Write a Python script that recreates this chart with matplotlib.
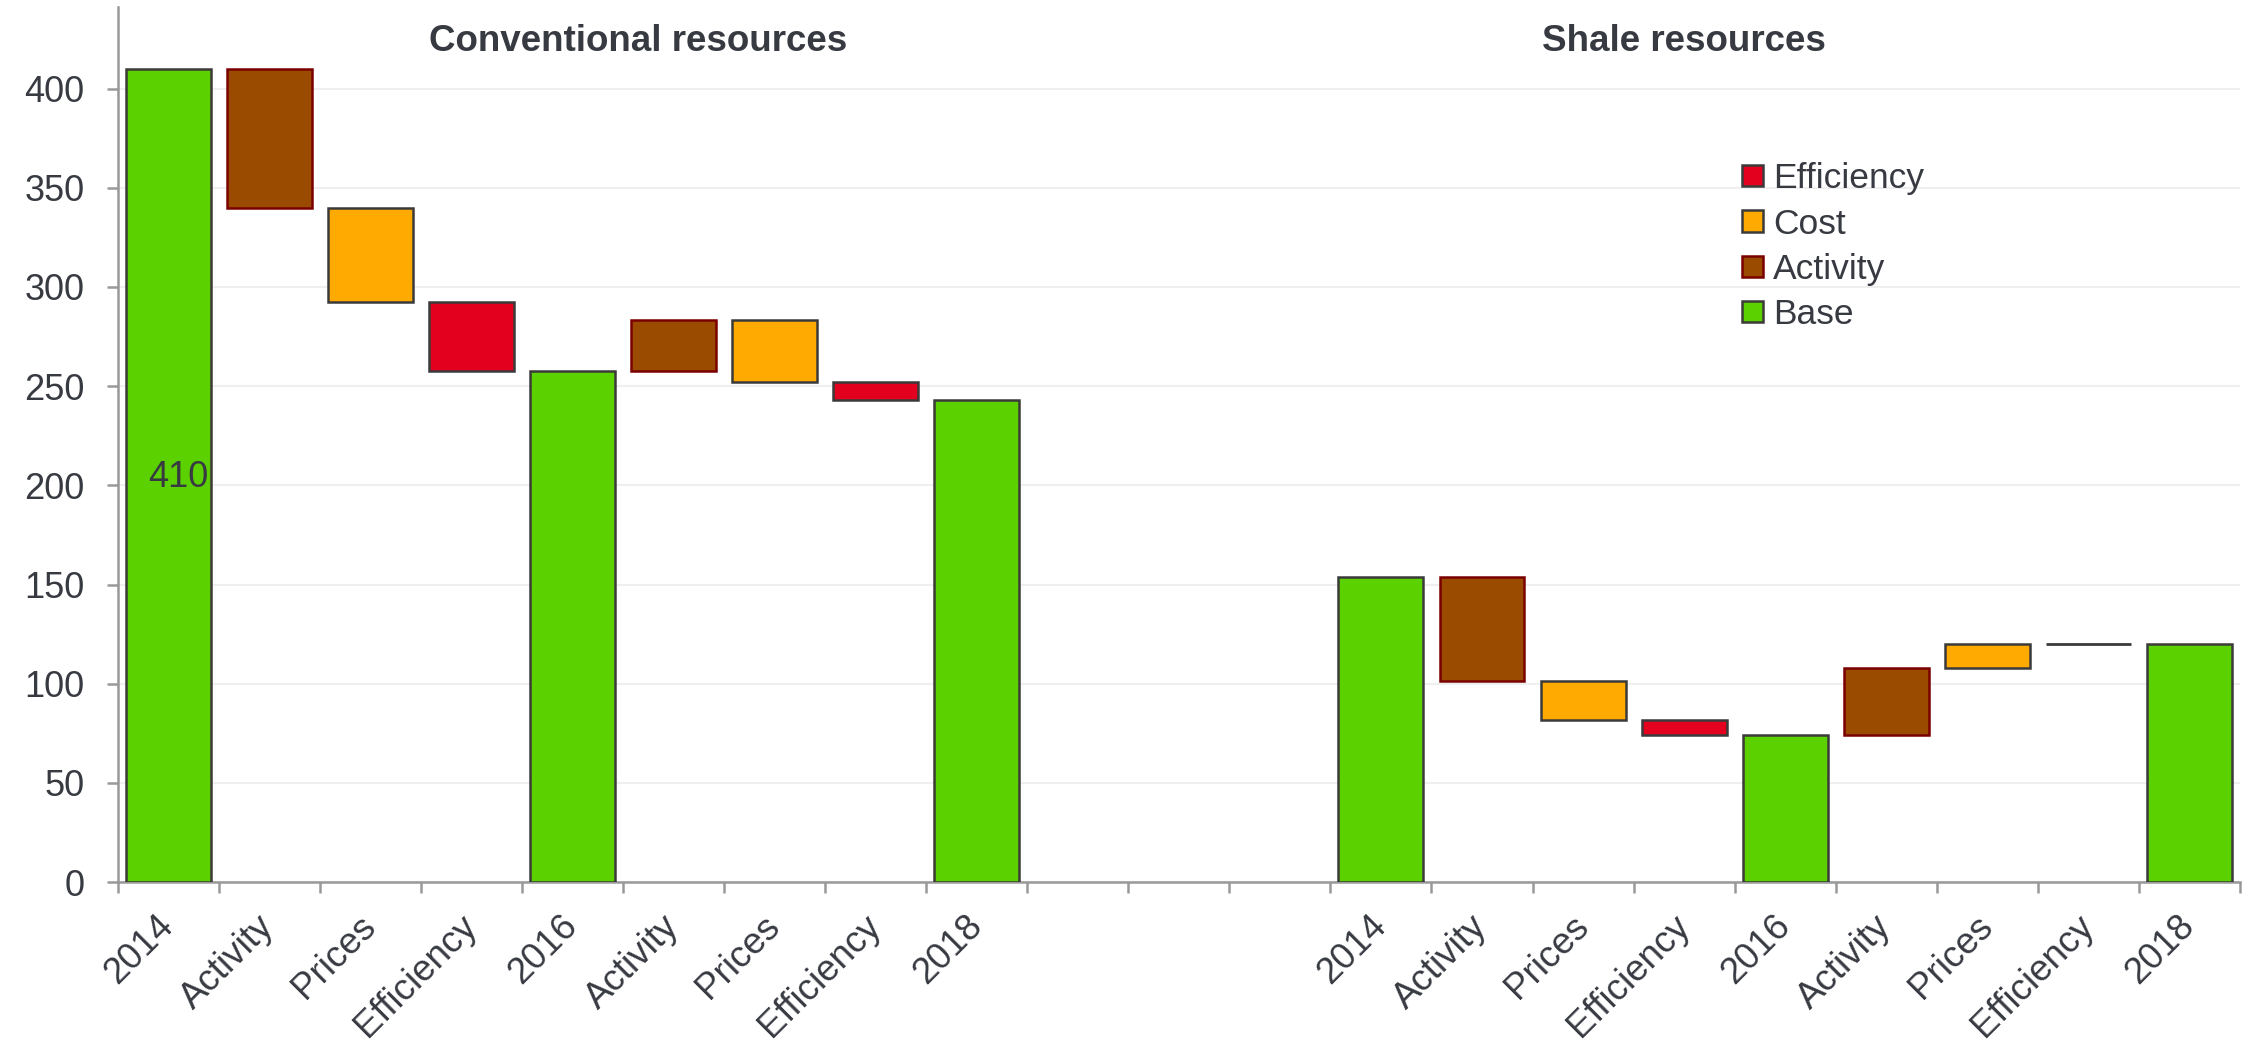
import matplotlib
matplotlib.use("Agg")
import matplotlib.pyplot as plt
from matplotlib.patches import Patch
from matplotlib.transforms import ScaledTranslation
import numpy as np

plt.rcParams['font.family'] = ['Liberation Sans', 'DejaVu Sans']

# Waterfall steps for each resource group
step_labels = ["2014", "Activity", "Prices", "Efficiency", "2016",
               "Activity", "Prices", "Efficiency", "2018"]
step_kinds = ["Base", "Activity", "Cost", "Efficiency", "Base",
              "Activity", "Cost", "Efficiency", "Base"]
conventional_values = [410, -70, -47.5, -35, 257.5, 26, -31.5, -9, 243]
shale_values = [154, -52.5, -20, -7.5, 74, 34, 12, 0, 120]
gap_slots = 3

group_titles = ["Conventional resources", "Shale resources"]
legend_order = ["Efficiency", "Cost", "Activity", "Base"]

colors = {"Base": "#5BD200", "Activity": "#9B4B00",
          "Cost": "#FFAA00", "Efficiency": "#E2001E"}
edges = {"Base": "#3a3a3a", "Activity": "#7a0000",
         "Cost": "#3a3a3a", "Efficiency": "#3a3a3a"}
text_color = "#383a42"
axis_color = "#999999"


def waterfall(values, kinds):
    bottoms, heights = [], []
    running = 0.0
    for v, k in zip(values, kinds):
        if k == "Base":
            bottoms.append(0.0)
            heights.append(v)
            running = v
        else:
            bottoms.append(min(running, running + v))
            heights.append(abs(v))
            running += v
    return bottoms, heights


fig = plt.figure(figsize=(22.49, 10.41), dpi=100)
ax = fig.add_axes([0.0523, 0.1527, 0.9437, 0.8403])

labels_all = []
x_all = []
for g, values in enumerate([conventional_values, shale_values]):
    offset = g * (len(step_labels) + gap_slots)
    b, h = waterfall(values, step_kinds)
    xs = np.arange(len(values)) + offset
    for x, bb, hh, k in zip(xs, b, h, step_kinds):
        ax.bar(x, hh, bottom=bb, width=0.84, color=colors[k],
               edgecolor=edges[k], linewidth=2.0 if hh == 0 else 1.8,
               zorder=3)
    x_all.extend(xs)
    labels_all.extend(step_labels)

n_slots = 2 * len(step_labels) + gap_slots
ax.set_xlim(-0.5, n_slots - 0.5)
ax.set_ylim(0, 441)

# Value label on the first bar
ax.text(0.1, conventional_values[0] / 2 - 1, f"{conventional_values[0]:g}",
        ha="center", va="center", fontsize=26, color=text_color, zorder=4)

# Group titles
ax.text(4.65, 423.5, group_titles[0], ha="center", va="center",
        fontsize=26.5, fontweight="bold", color=text_color)
ax.text(15.0, 423.5, group_titles[1], ha="center", va="center",
        fontsize=26.5, fontweight="bold", color=text_color)

# Axes styling
ax.set_xticks(x_all)
ax.set_xticklabels(labels_all, rotation=45, ha="right", va="center",
                   rotation_mode="anchor", fontsize=26.5, color=text_color)
shift = ScaledTranslation(-0.05, 0, fig.dpi_scale_trans)
for lbl in ax.get_xticklabels():
    lbl.set_transform(lbl.get_transform() + shift)
ax.set_xticks(np.arange(-0.5, n_slots, 1.0), minor=True)
ax.tick_params(axis="x", which="major", length=0, pad=28)
ax.tick_params(axis="x", which="minor", length=8, width=1.8, color=axis_color)
ax.set_yticks(np.arange(0, 401, 50))
ax.tick_params(axis="y", length=8, width=1.8, color=axis_color,
               labelsize=26, labelcolor=text_color, pad=16)
for s in ["top", "right"]:
    ax.spines[s].set_visible(False)
for s in ["left", "bottom"]:
    ax.spines[s].set_color(axis_color)
    ax.spines[s].set_linewidth(1.8)
ax.yaxis.grid(True, color="#efefef", linewidth=1.5, zorder=0)
ax.set_axisbelow(True)

handles = [Patch(facecolor=colors[k], edgecolor=edges[k], linewidth=1.8,
                 label=k) for k in legend_order]
ax.legend(handles=handles, loc="upper left", bbox_to_anchor=(0.7654, 0.823),
          frameon=False, fontsize=25.5, handlelength=0.58, handleheight=0.55,
          handletextpad=0.3, labelspacing=0.35, borderpad=0,
          borderaxespad=0, labelcolor=text_color)

fig.savefig("out.png", dpi=100, facecolor="white")
